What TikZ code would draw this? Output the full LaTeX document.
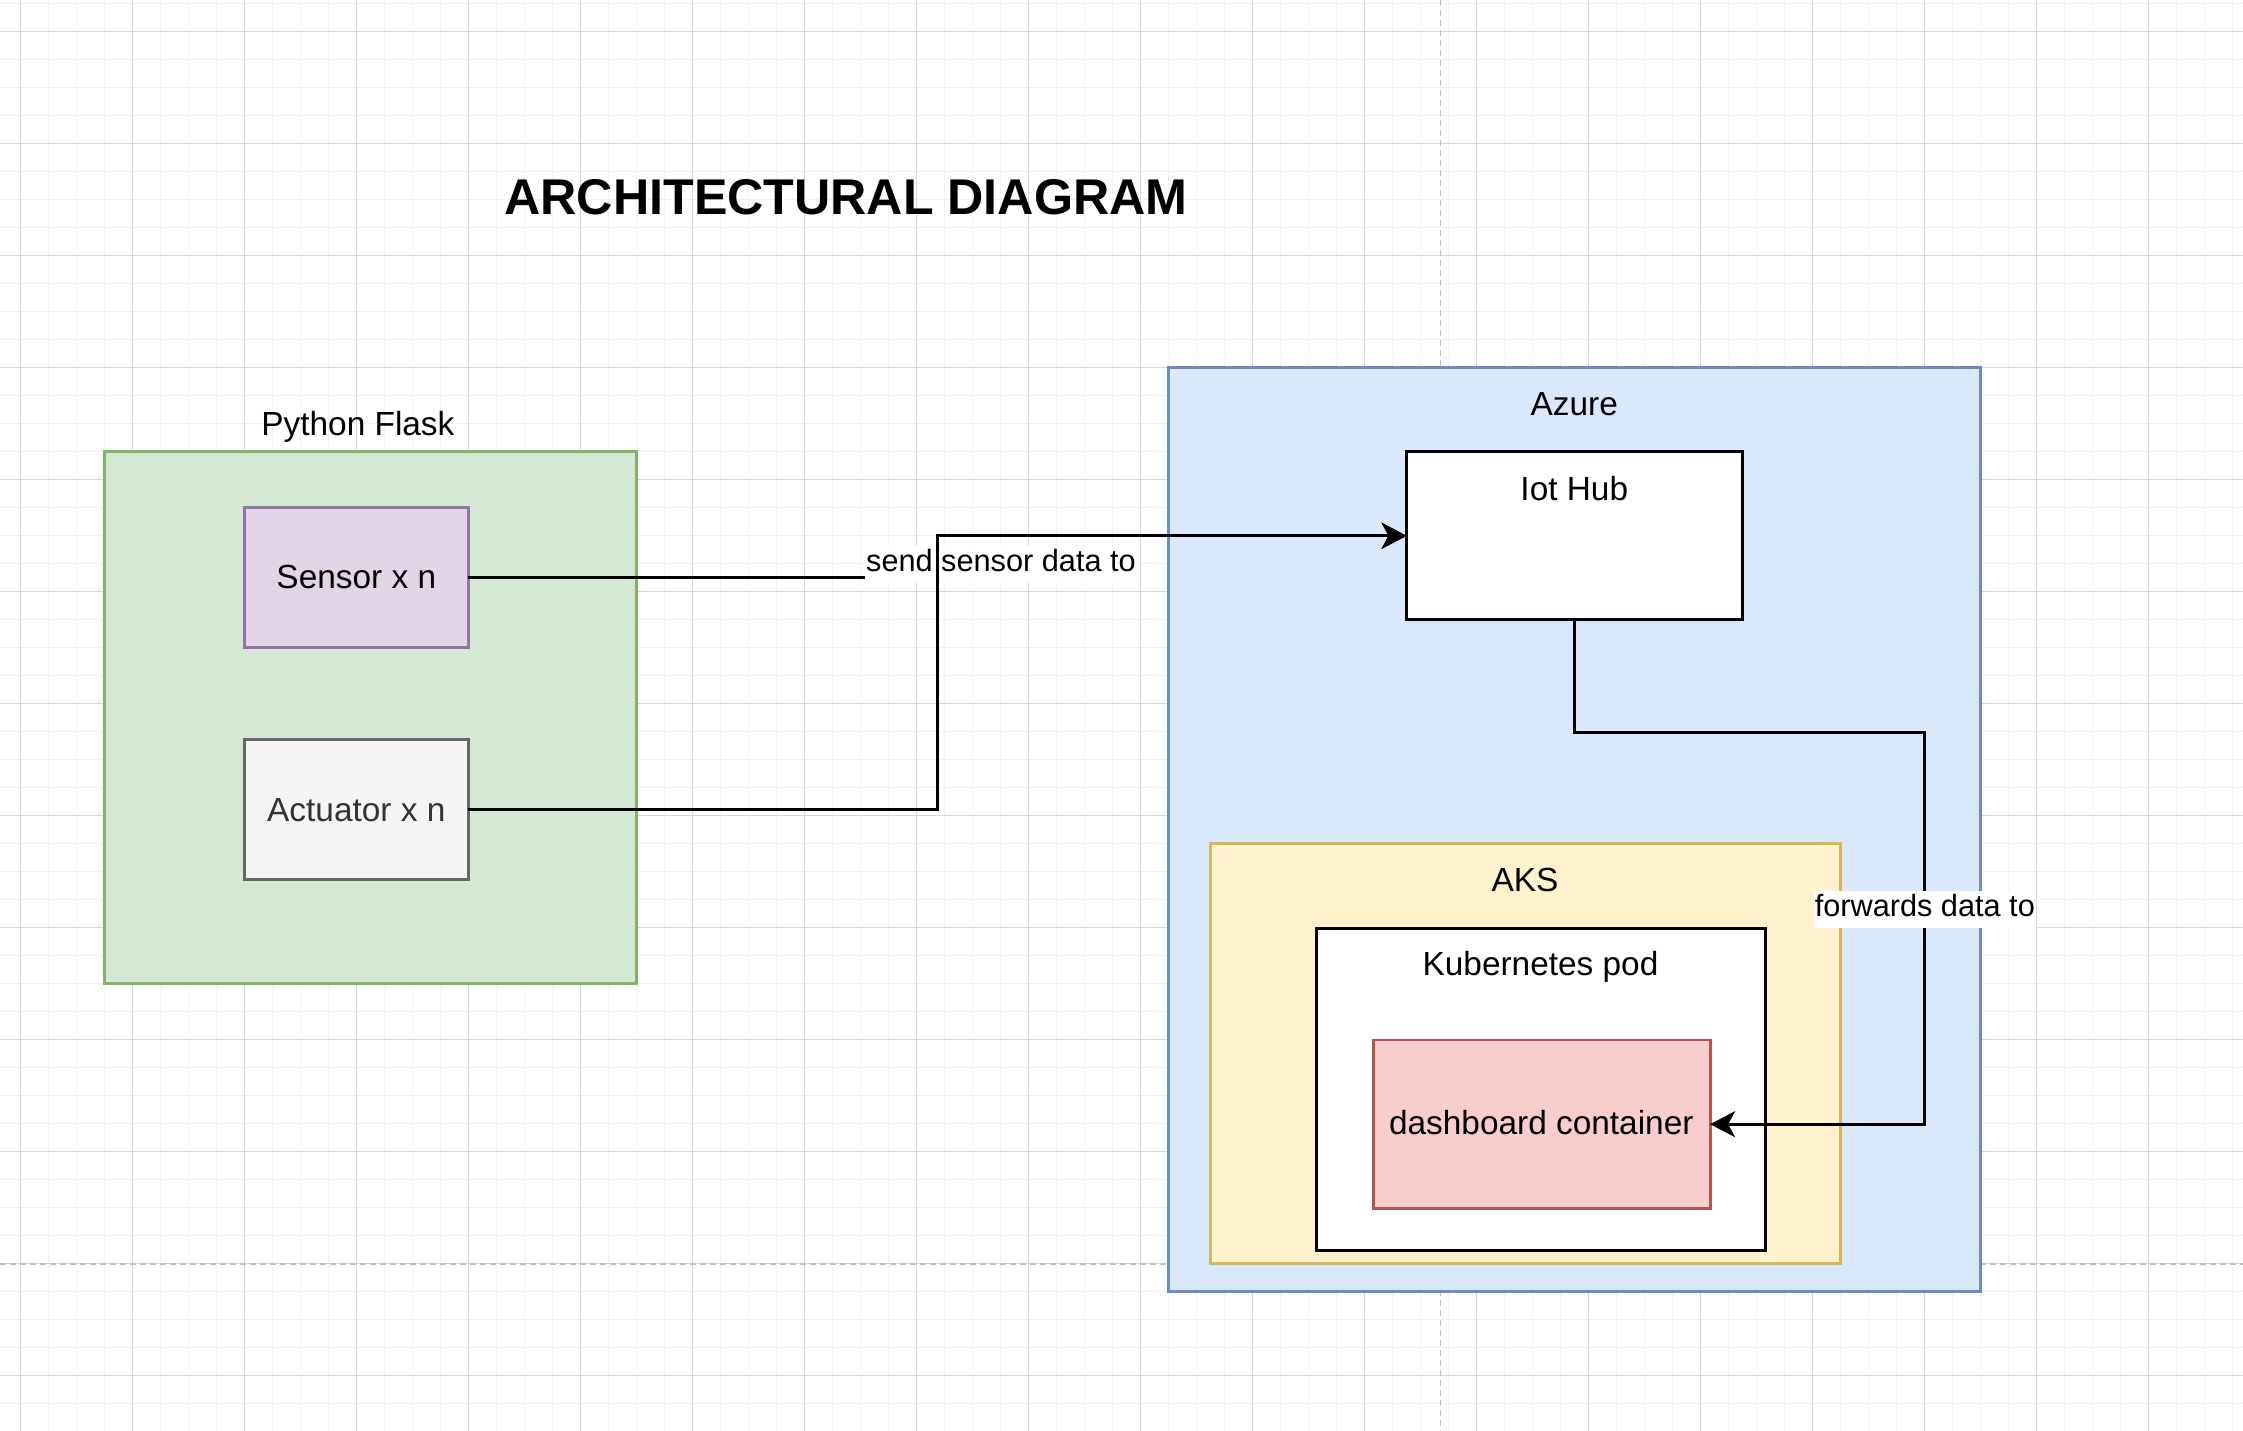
\documentclass[tikz,border=0pt]{standalone}
\usepackage{fontspec}
\setmainfont{Liberation Sans}
\usetikzlibrary{arrows.meta,calc}
\definecolor{gridminor}{HTML}{F2F2F2}
\definecolor{gridmajor}{HTML}{D6D6D6}
\definecolor{pageline}{HTML}{C0C0C0}
\definecolor{flaskfill}{HTML}{D5E8D4}
\definecolor{flaskline}{HTML}{82B366}
\definecolor{sensfill}{HTML}{E1D5E7}
\definecolor{sensline}{HTML}{9673A6}
\definecolor{actfill}{HTML}{F5F5F5}
\definecolor{actline}{HTML}{666666}
\definecolor{acttext}{HTML}{333333}
\definecolor{azfill}{HTML}{DAE8FC}
\definecolor{azline}{HTML}{6C8EBF}
\definecolor{aksfill}{HTML}{FFF2CC}
\definecolor{aksline}{HTML}{D6B656}
\definecolor{dashfill}{HTML}{F8CECC}
\definecolor{dashline}{HTML}{B85450}
\begin{document}
\begin{tikzpicture}[x=1pt,y=-1pt,
  box/.style={rectangle, draw, line width=2.8pt, inner sep=0pt, outer sep=0pt},
  txt/.style={font=\fontsize{33.4}{40}\selectfont, anchor=base, inner sep=0pt},
  elabel/.style={font=\fontsize{30.7}{36}\selectfont, anchor=base, fill=white,
    inner xsep=1pt, inner ysep=0pt, text height=25.7pt, text depth=11pt},
  edge/.style={line width=2.8pt, draw=black},
  arr/.style={-{Stealth[length=25pt,width=26pt,inset=7pt]}},
  minorline/.style={draw=gridminor, line width=1.2pt},
  majorline/.style={draw=gridmajor, line width=1.2pt},
  pagebreak/.style={draw=pageline, line width=1.4pt, dash pattern=on 6pt off 4pt}
]
\useasboundingbox (0,0) rectangle (2243,1431);
\fill[white] (0,0) rectangle (2243,1431);
% grid
\foreach \k [evaluate=\k as \xx using 20.3+28*\k] in {0,...,79}
  \draw[minorline] (\xx,0) -- (\xx,1431);
\foreach \k [evaluate=\k as \yy using 31.3+28*\k] in {-1,...,49}
  \draw[minorline] (0,\yy) -- (2243,\yy);
\foreach \k [evaluate=\k as \xx using 20.3+112*\k] in {0,...,19}
  \draw[majorline] (\xx,0) -- (\xx,1431);
\foreach \k [evaluate=\k as \yy using 31.3+112*\k] in {0,...,12}
  \draw[majorline] (0,\yy) -- (2243,\yy);
% page breaks
\draw[pagebreak] (1440.5,0) -- (1440.5,1431);
\draw[pagebreak] (0,1264) -- (2243,1264);

% title
\node[font=\bfseries\fontsize{50.2}{60}\selectfont, anchor=base, inner sep=0pt] (title) at (846,215) {ARCHITECTURAL DIAGRAM};

% left group
\node[box, fill=flaskfill, draw=flaskline, minimum width=532pt, minimum height=532pt] (flask) at (370.3,717.3) {};
\node[box, fill=sensfill, draw=sensline, minimum width=224pt, minimum height=140pt] (sensor) at (356.3,577.8) {};
\node[box, fill=actfill, draw=actline, minimum width=224pt, minimum height=140pt] (act) at (356.3,809.1) {};
\node[txt] (flaskT) at (357.9,435) {Python Flask};
\node[txt] (sensorT) at (356.3,588.3) {Sensor x n};
\node[txt, text=acttext] (actT) at (356.3,821) {Actuator x n};

% azure group
\node[box, fill=azfill, draw=azline, minimum width=812pt, minimum height=924pt] (azure) at (1574.3,829.5) {};
\node[box, fill=white, draw=black, minimum width=336pt, minimum height=168pt] (iothub) at (1574.6,535.8) {};
\node[box, fill=aksfill, draw=aksline, minimum width=630pt, minimum height=420pt] (aks) at (1525.2,1053.8) {};
\node[box, fill=white, draw=black, minimum width=449pt, minimum height=322pt] (pod) at (1541.1,1089.5) {};
\node[box, fill=dashfill, draw=dashline, minimum width=337pt, minimum height=168.5pt] (dash) at (1541.6,1124.2) {};
\node[txt] (azureT) at (1574.3,415) {Azure};
\node[txt] (iothubT) at (1574.3,500) {Iot Hub};
\node[txt] (aksT) at (1524.9,891.7) {AKS};
\node[txt] (podT) at (1540.5,975.7) {Kubernetes pod};
\node[txt] (dashT) at (1541.3,1134) {dashboard container};

% connectors
\coordinate (bendA) at (937.5,0);
\coordinate (bendB) at (1924.8,732.3);
\draw[edge, arr] (sensor.east) -- (sensor.east -| bendA) |- (iothub.west);
\node[elabel] (lab1) at (1001,571.7) {send sensor data to};
\draw[edge, arr] (act.east) -- (act.east -| bendA) |- (iothub.west);
\draw[edge, arr] (iothub.south) |- (bendB) |- (dash.east);
\node[elabel] (lab2) at (1924.8,916.7) {forwards data to};
\end{tikzpicture}
\end{document}
